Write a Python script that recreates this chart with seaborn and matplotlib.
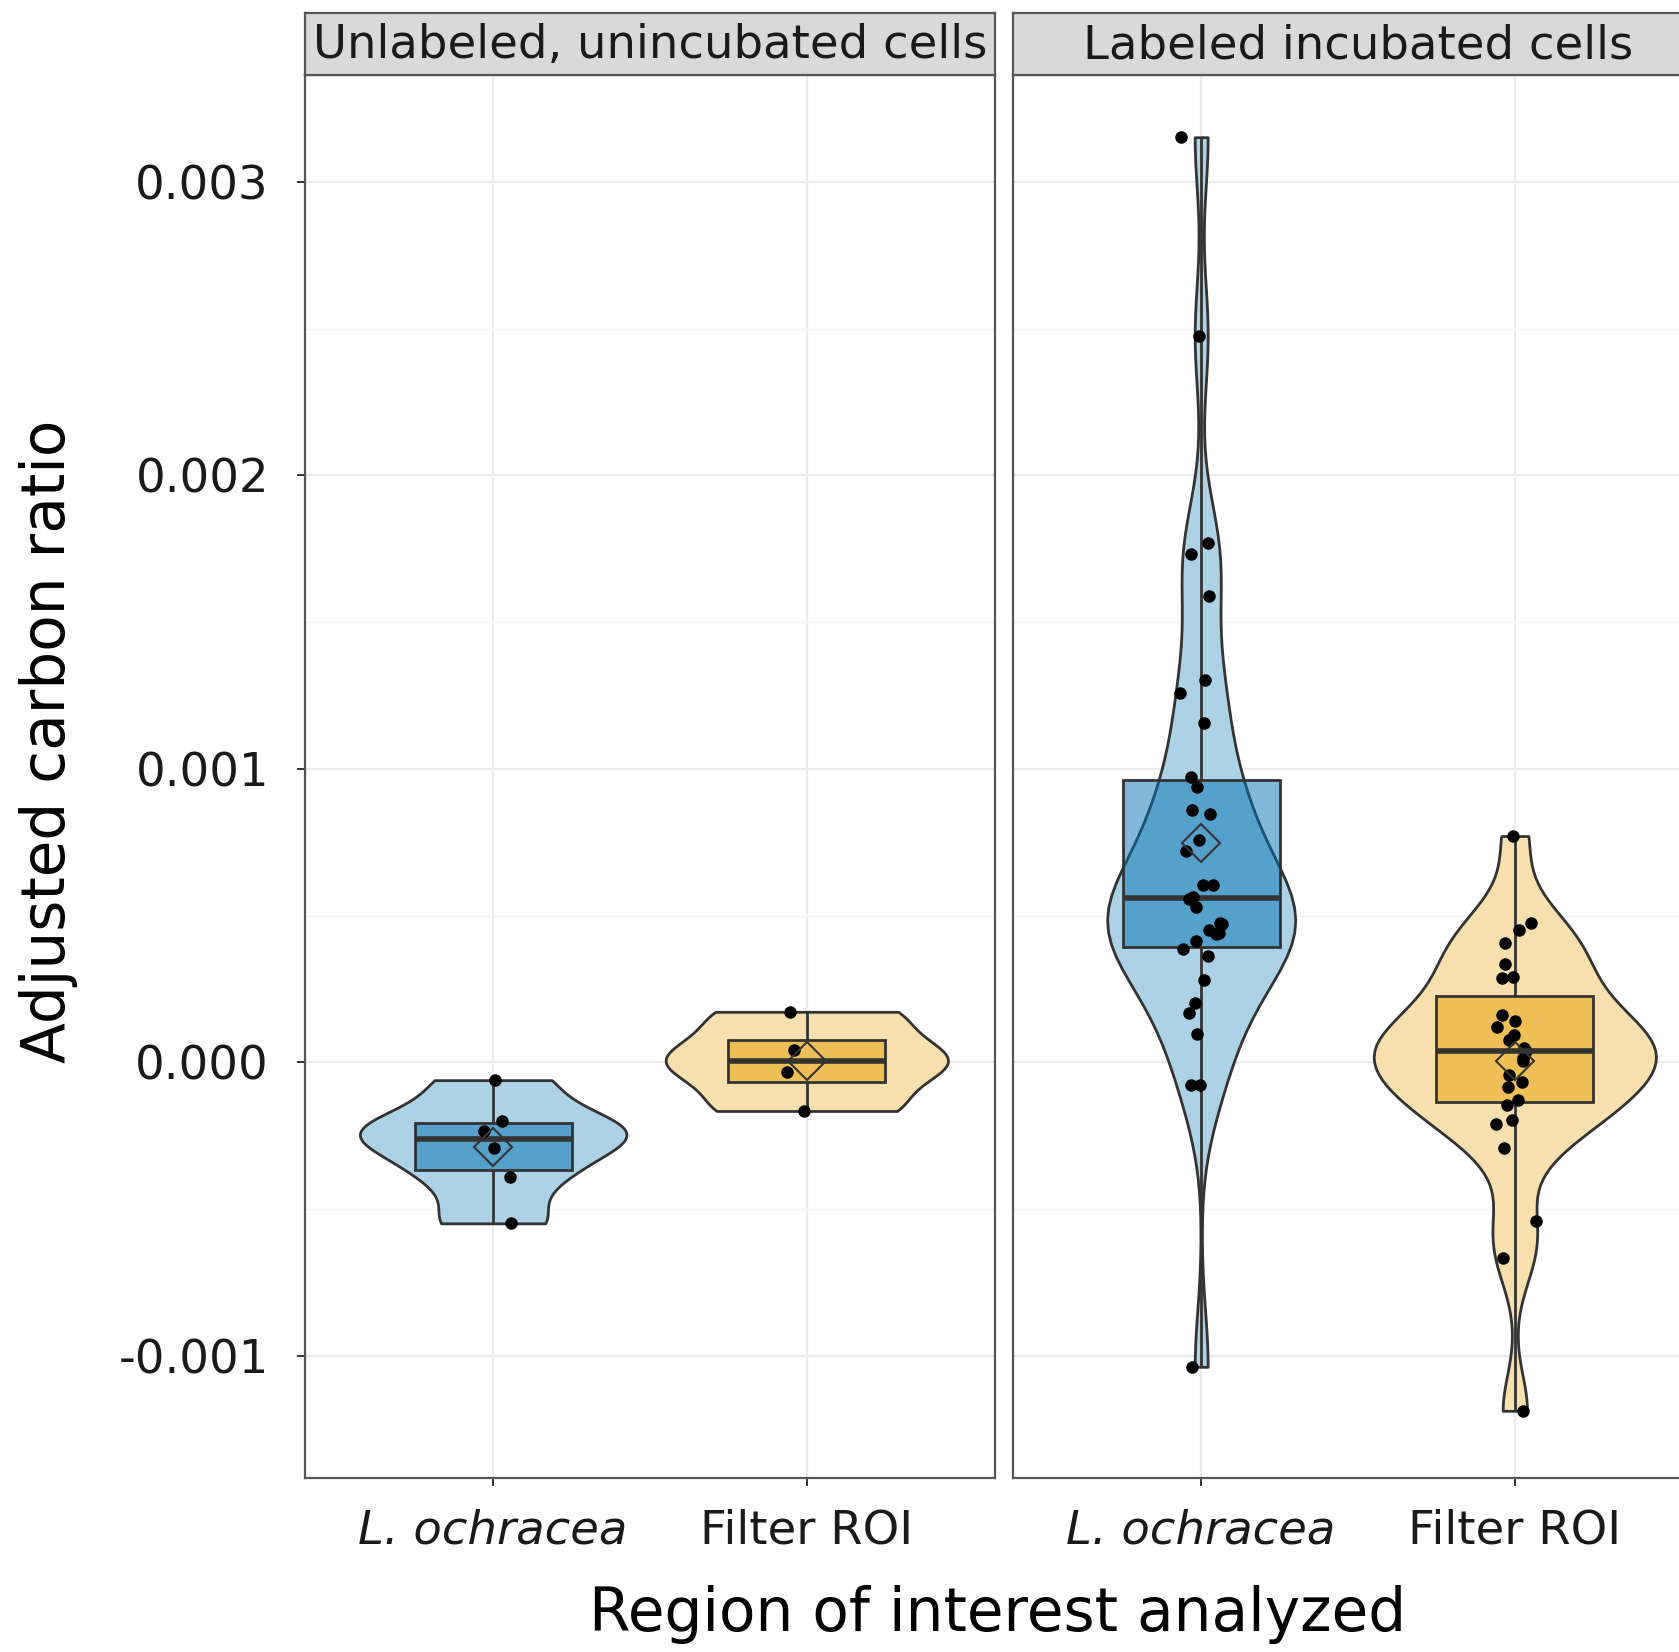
import numpy as np
import pandas as pd
import matplotlib
matplotlib.use("Agg")
import matplotlib.pyplot as plt
from matplotlib.ticker import FixedLocator, FormatStrFormatter
import seaborn as sns

# values (adjusted carbon ratio)
unlabeled_ochracea = [-0.000061, -0.000200, -0.000234, -0.000292, -0.000391, -0.000549]
unlabeled_filter = [0.000172, 0.000042, -0.000033, -0.000166]
labeled_ochracea = [0.003153, 0.002477, 0.001769, 0.001733, 0.001588, 0.001302, 0.001260,
                    0.001158, 0.000972, 0.000939, 0.000861, 0.000847, 0.000758, 0.000720,
                    0.000604, 0.000604, 0.000564, 0.000557, 0.000530, 0.000475, 0.000470,
                    0.000451, 0.000439, 0.000436, 0.000415, 0.000387, 0.000361, 0.000281,
                    0.000203, 0.000168, 0.000097, -0.000077, -0.000077, -0.001038]
labeled_filter = [0.000771, 0.000476, 0.000450, 0.000405, 0.000336, 0.000291, 0.000288,
                  0.000162, 0.000140, 0.000120, 0.000094, 0.000077, 0.000050, 0.000038,
                  0.000013, 0.000006, -0.000044, -0.000066, -0.000083, -0.000130, -0.000144,
                  -0.000198, -0.000212, -0.000291, -0.000540, -0.000667, -0.001188]

rois = ["L. ochracea", "Filter ROI"]
panels = ["Unlabeled, unincubated cells", "Labeled incubated cells"]
yticks = [-0.001, 0.000, 0.001, 0.002, 0.003]

rows = []
for panel, groups in zip(panels, [[unlabeled_ochracea, unlabeled_filter],
                                  [labeled_ochracea, labeled_filter]]):
    for roi, vals in zip(rois, groups):
        for v in vals:
            rows.append({"panel": panel, "roi": roi, "ratio": v})
df = pd.DataFrame(rows)

base = {"L. ochracea": "#0072B2", "Filter ROI": "#E69F00"}
violin_width = {panels[0]: {"L. ochracea": 0.85, "Filter ROI": 0.9},
                panels[1]: {"L. ochracea": 0.6, "Filter ROI": 0.9}}
edge = "#333333"


def blend(c, a):
    r, g, b = matplotlib.colors.to_rgb(c)
    return (1 - a + a * r, 1 - a + a * g, 1 - a + a * b)


def nrd0(x):
    # ggplot-like bandwidth, as a factor of the sd for scipy
    x = np.asarray(x)
    sd = x.std(ddof=1)
    iqr = np.subtract(*np.percentile(x, [75, 25]))
    bw = 0.9 * min(sd, iqr / 1.34) * len(x) ** -0.2
    return bw / sd


np.random.seed(3)
fig = plt.figure(figsize=(16.79, 16.52), dpi=100)
W = 690 / 1679
bottom, height = 1 - 1478 / 1652, (1478 - 75) / 1652
lefts = [305 / 1679, 1013 / 1679]

for panel, left in zip(panels, lefts):
    ax = fig.add_axes([left, bottom, W, height])
    sub = df[df.panel == panel]
    for roi in rois:
        g = sub[sub.roi == roi]
        sns.violinplot(data=g, x="roi", y="ratio", order=rois, ax=ax, cut=0, inner=None,
                       density_norm="width", width=violin_width[panel][roi],
                       bw_method=nrd0(g.ratio), color=blend(base[roi], 0.32), saturation=1,
                       linewidth=2.0, linecolor=edge)
        r, gg, b = matplotlib.colors.to_rgb(base[roi])
        sns.boxplot(data=g, x="roi", y="ratio", order=rois, ax=ax, width=0.5,
                    whis=(0, 100), showcaps=False, showfliers=False, saturation=1,
                    color=base[roi], linecolor=edge, linewidth=2.0,
                    boxprops=dict(facecolor=(r, gg, b, 0.5), edgecolor=edge),
                    medianprops=dict(color=edge, linewidth=4.0))
    sns.stripplot(data=sub, x="roi", y="ratio", order=rois, ax=ax, color="black",
                  size=9, jitter=0.07, zorder=4)
    sns.pointplot(data=sub, x="roi", y="ratio", order=rois, ax=ax, estimator="mean",
                  errorbar=None, markers="D", linestyles="none", color=edge,
                  markersize=19, markeredgewidth=1.5)
    for ln in ax.lines[-2:]:
        ln.set_markerfacecolor("none")
        ln.set_zorder(5)

    ax.set_xlim(-0.6, 1.6)
    ax.set_ylim(-0.001417, 0.003365)
    ax.yaxis.set_major_locator(FixedLocator(yticks))
    ax.yaxis.set_minor_locator(FixedLocator([-0.0005, 0.0005, 0.0015, 0.0025]))
    ax.yaxis.set_major_formatter(FormatStrFormatter("%.3f"))
    ax.set_xticks([0, 1])
    ax.set_xticklabels(rois)
    ax.get_xticklabels()[0].set_style("italic")
    ax.set_xlabel("")
    ax.set_ylabel("")
    ax.set_axisbelow(True)
    ax.grid(which="major", color="#EBEBEB", linewidth=1.6)
    ax.grid(which="minor", axis="y", color="#F3F3F3", linewidth=1.0)
    ax.tick_params(which="major", length=6, width=1.4, color="#333333",
                   labelsize=33.5, labelcolor="#1a1a1a")
    ax.tick_params(axis="y", pad=20)
    ax.tick_params(axis="x", pad=16)
    ax.tick_params(which="minor", length=0)
    for s in ax.spines.values():
        s.set_color("#555555")
        s.set_linewidth(1.6)
    if left != lefts[0]:
        ax.tick_params(axis="y", labelleft=False, left=False)

    sax = fig.add_axes([left, 1 - 75 / 1652, W, 62 / 1652])
    sax.set_facecolor("#D9D9D9")
    sax.set_xticks([])
    sax.set_yticks([])
    for s in sax.spines.values():
        s.set_color("#555555")
        s.set_linewidth(1.6)
    sax.text(0.5, 0.47, panel, ha="center", va="center", fontsize=33.5,
             color="#1a1a1a", transform=sax.transAxes, clip_on=True)

fig.text(0.0286, 1 - 741 / 1652, "Adjusted carbon ratio", rotation=90,
         ha="center", va="center", fontsize=43)
fig.text(998 / 1679, 1 - 1615 / 1652, "Region of interest analyzed",
         ha="center", va="center", fontsize=43)

fig.savefig("out.png", dpi=100)
